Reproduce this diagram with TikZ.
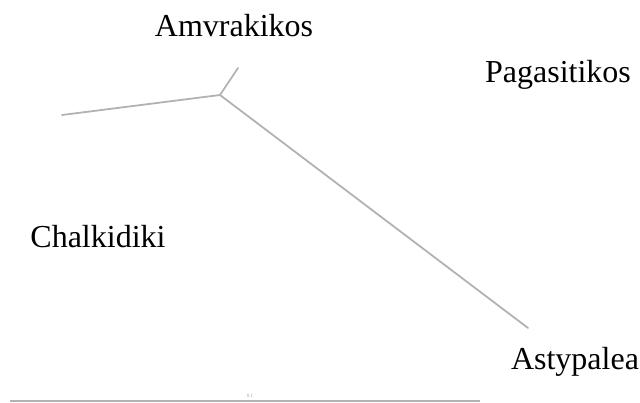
\documentclass[tikz,border=0pt]{standalone}
\usepackage{fontspec}
\setmainfont{Liberation Serif}
\begin{document}
\begin{tikzpicture}[x=1pt,y=-1pt,
  branch/.style={draw=black!30, line width=1.8pt, line cap=round},
  taxon/.style={font=\fontsize{32}{32}\selectfont, inner sep=0pt, anchor=base},
  scalebar/.style={draw=black!30, line width=1.5pt}]
\useasboundingbox (0,0) rectangle (640,403);
\coordinate (c) at (220,95);
\coordinate (l) at (62,115);
\coordinate (u) at (238,68);
\coordinate (a) at (528,328);
\draw[branch] (l) -- (c);
\draw[branch] (c) -- (u);
\draw[branch] (c) -- (a);
\node[taxon] (amv) at (234,37) {Amvrakikos};
\node[taxon] (pag) at (558,83) {Pagasitikos};
\node[taxon] (cha) at (98,248) {Chalkidiki};
\node[taxon] (ast) at (575,370) {Astypalea};
\coordinate (s1) at (10,401);
\coordinate (s2) at (480,401);
\draw[scalebar] (s1) -- (s2);
\node[font=\fontsize{5}{5}\selectfont, text=black!35, inner sep=0pt] (sl) at (250,396) {0.1};
\end{tikzpicture}
\end{document}
